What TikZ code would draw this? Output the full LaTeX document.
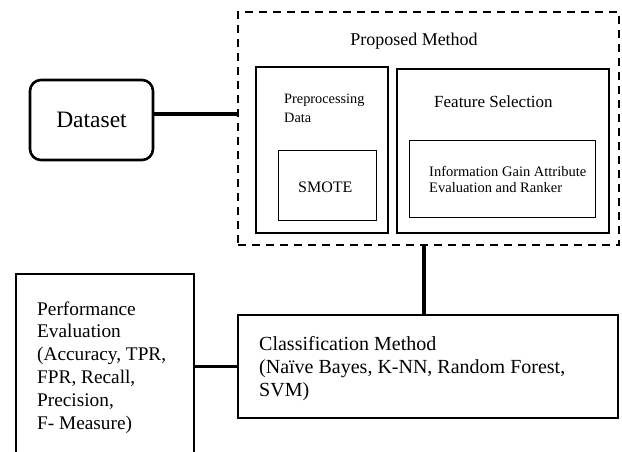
\documentclass[tikz,border=0pt]{standalone}
\usepackage{fontspec}
\setmainfont{Liberation Serif}
\usepackage{tikz}
\usetikzlibrary{calc}

\begin{document}
\begin{tikzpicture}[x=1pt,y=-1pt,
  box/.style={draw,line width=2.4pt,inner sep=0pt},
  innerbox/.style={draw,line width=1pt,inner sep=0pt},
  dashbox/.style={draw,line width=2.8pt,dash pattern=on 8pt off 6pt,inner sep=0pt},
  conn/.style={line width=3.2pt},
  txt/.style={inner sep=0pt,align=left,anchor=base west}]
\useasboundingbox (0,0) rectangle (622,452);
% boxes
\node[box,line width=2.6pt,rounded corners=11pt,minimum width=123pt,minimum height=80pt,
  font=\fontsize{23.5}{28}\selectfont] (dataset) at (91.5,120) {Dataset};
\node[dashbox,minimum width=381pt,minimum height=233pt] (proposed) at (428.5,128.5) {};
\node[box,minimum width=132pt,minimum height=166pt] (prep) at (322,150) {};
\node[box,minimum width=212pt,minimum height=164pt] (feat) at (503,151) {};
\node[innerbox,minimum width=98pt,minimum height=70pt] (smote) at (327,185) {};
\node[innerbox,minimum width=186pt,minimum height=76pt] (igain) at (502,179) {};
\node[box,line width=2.2pt,minimum width=380pt,minimum height=103pt] (classify) at (428,366.5) {};
\node[box,line width=2.2pt,minimum width=178pt,minimum height=200pt] (perf) at (105,374) {};
% texts (multi-line: y is the baseline of the last line)
\node[font=\fontsize{18}{21}\selectfont] (proposedtxt) at (414,41) {Proposed Method};
\node[txt,font=\fontsize{14.3}{19}\selectfont] (preptxt) at (284,122) {Preprocessing\\Data};
\node[txt,font=\fontsize{17}{20}\selectfont] (feattxt) at (434,107) {Feature Selection};
\node[txt,font=\fontsize{16}{19}\selectfont] (smotetxt) at (298,192) {SMOTE};
\node[txt,font=\fontsize{14.5}{16.5}\selectfont] (igaintxt) at (429,193)
  {Information Gain Attribute\\Evaluation and Ranker};
\node[txt,font=\fontsize{20}{23}\selectfont] (classtxt) at (259,396)
  {Classification Method\\(Naïve Bayes, K-NN, Random Forest,\\SVM)};
\node[txt,font=\fontsize{19.3}{22.8}\selectfont] (perftxt) at (37,429)
  {Performance\\Evaluation\\(Accuracy, TPR,\\FPR, Recall,\\Precision,\\F- Measure)};
% connectors
\coordinate (dsY) at (0,114);
\coordinate (clX) at (424,0);
\draw[conn] (dataset.east |- dsY) -- (proposed.west |- dsY);
\draw[conn] (clX |- classify.north) -- (clX |- proposed.south);
\draw[conn,line width=2.8pt] (perf.east |- classify.west) -- (classify.west);
\end{tikzpicture}
\end{document}
